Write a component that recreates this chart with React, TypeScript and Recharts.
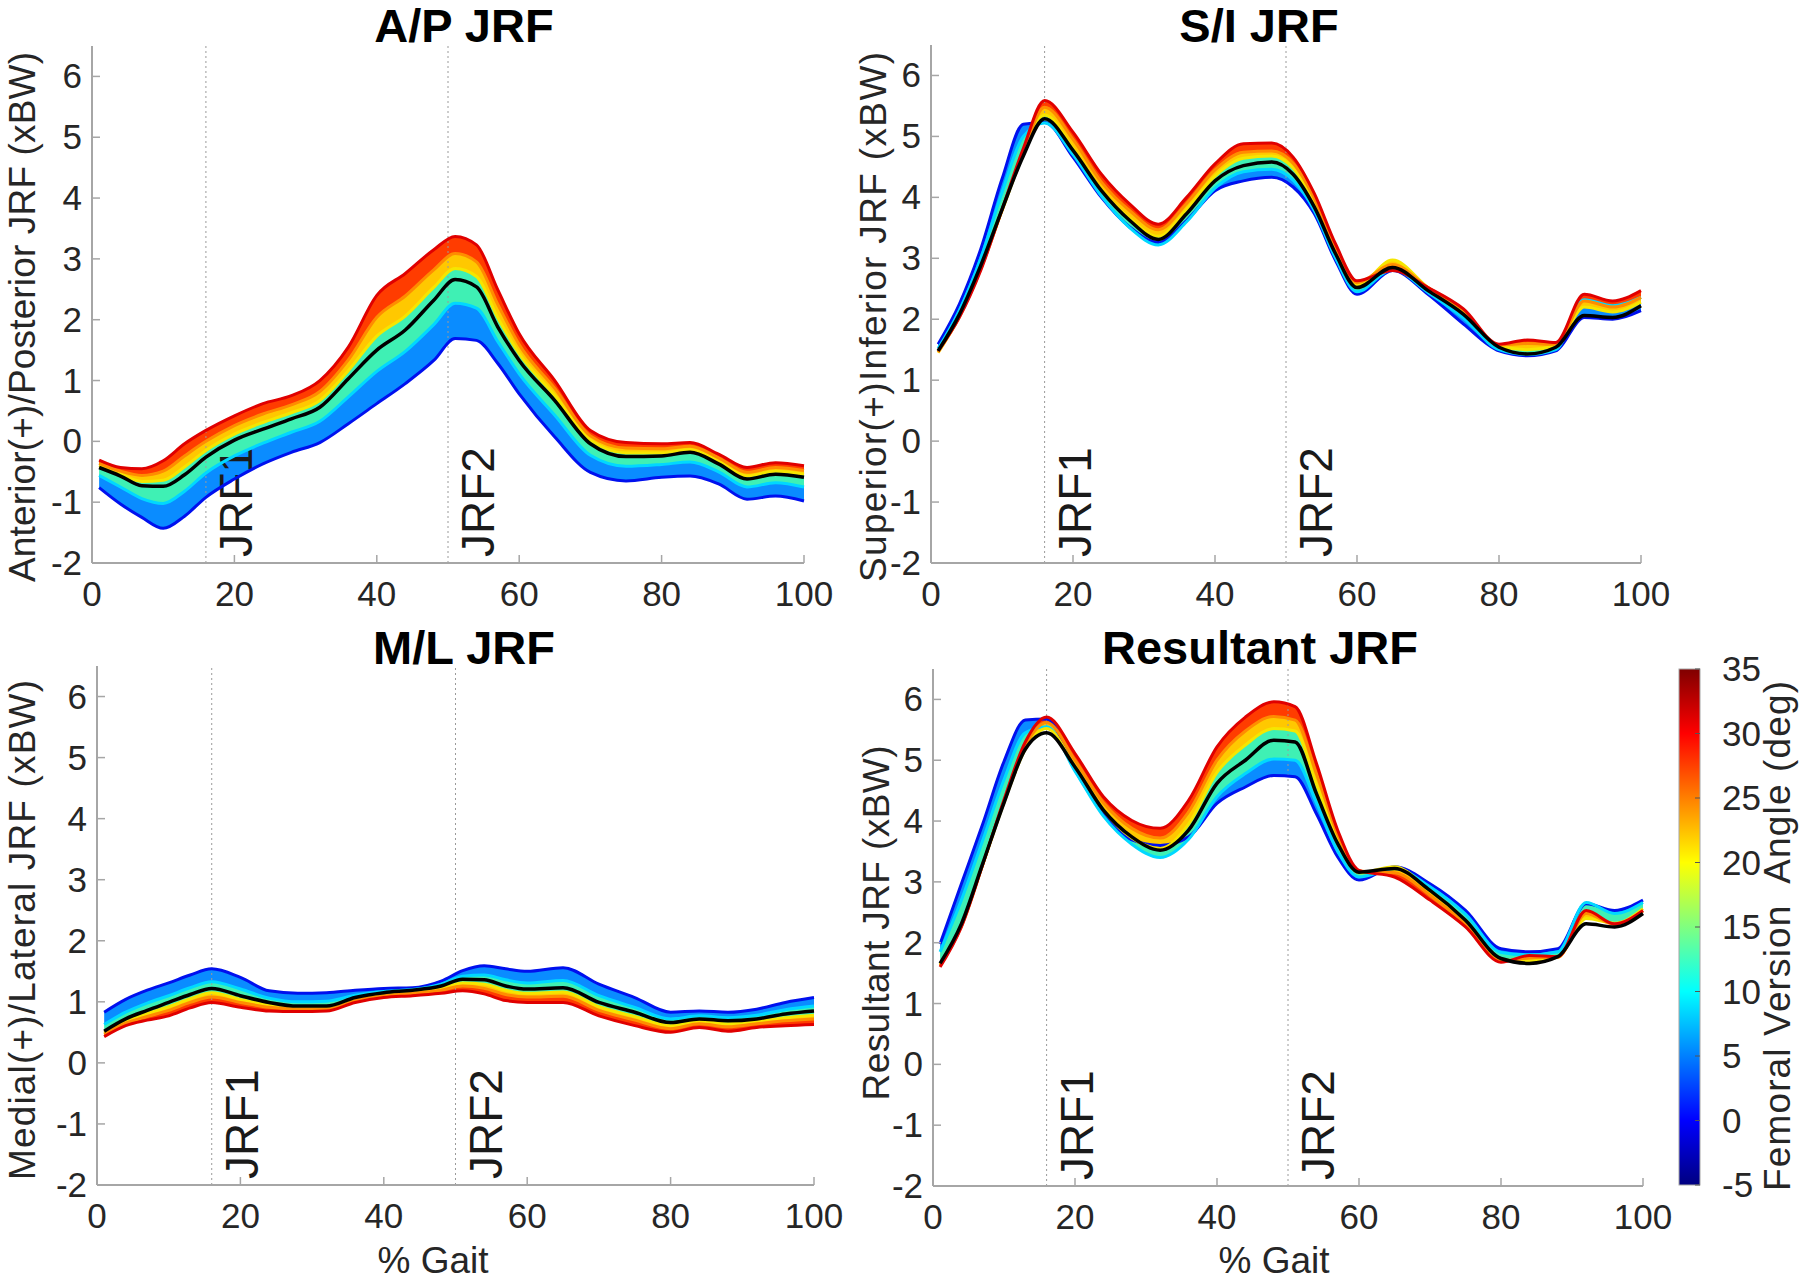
import React from "react";
import { ComposedChart, Area, Line, XAxis, YAxis, ReferenceLine } from "recharts";

// % gait samples shared by every panel
const gait = [1, 4, 7, 10, 13, 16, 20, 24, 28, 32, 36, 40, 44, 48, 51, 54, 57, 60, 65, 70, 75, 80, 84, 88, 92, 96, 100];

const yTicks = [-2, -1, 0, 1, 2, 3, 4, 5, 6];
const xTicks = [0, 20, 40, 60, 80, 100];
const barTicks = [35, 30, 25, 20, 15, 10, 5, 0, -5];
const jrfMarks = [16, 50];

// A/P JRF (xBW), one list per femoral version angle, black = baseline model
const apRed = [-0.31, -0.43, -0.45, -0.32, -0.04, 0.18, 0.42, 0.62, 0.75, 1.0, 1.55, 2.4, 2.76, 3.15, 3.37, 3.23, 2.49, 1.77, 1.0, 0.18, -0.02, -0.04, -0.02, -0.21, -0.43, -0.35, -0.4];
const apOrange = [-0.36, -0.49, -0.56, -0.49, -0.24, 0.0, 0.26, 0.45, 0.6, 0.82, 1.34, 2.04, 2.39, 2.82, 3.09, 2.95, 2.25, 1.59, 0.87, 0.09, -0.11, -0.12, -0.08, -0.27, -0.51, -0.43, -0.48];
const apYellow = [-0.4, -0.54, -0.66, -0.64, -0.42, -0.15, 0.12, 0.31, 0.47, 0.67, 1.16, 1.73, 2.06, 2.53, 2.84, 2.71, 2.03, 1.44, 0.75, 0.02, -0.19, -0.19, -0.14, -0.33, -0.57, -0.49, -0.54];
const apBlack = [-0.43, -0.57, -0.73, -0.74, -0.55, -0.26, 0.02, 0.2, 0.37, 0.56, 1.03, 1.5, 1.83, 2.32, 2.66, 2.54, 1.88, 1.33, 0.67, -0.04, -0.25, -0.24, -0.18, -0.37, -0.62, -0.54, -0.59];
const apCyan = [-0.56, -0.75, -0.94, -1.02, -0.82, -0.52, -0.24, -0.03, 0.15, 0.33, 0.73, 1.15, 1.48, 1.92, 2.27, 2.19, 1.64, 1.11, 0.43, -0.23, -0.41, -0.38, -0.34, -0.5, -0.75, -0.68, -0.75];
const apBlue = [-0.76, -1.03, -1.25, -1.43, -1.23, -0.92, -0.62, -0.37, -0.18, -0.02, 0.29, 0.62, 0.95, 1.33, 1.69, 1.66, 1.28, 0.78, 0.07, -0.51, -0.65, -0.59, -0.57, -0.7, -0.95, -0.9, -0.98];

// S/I JRF
const siRed = [1.48, 2.03, 2.8, 3.8, 4.8, 5.59, 5.07, 4.38, 3.89, 3.56, 4.0, 4.55, 4.88, 4.89, 4.66, 4.06, 3.23, 2.63, 2.8, 2.52, 2.17, 1.59, 1.66, 1.62, 2.41, 2.3, 2.47];
const siOrange = [1.46, 2.04, 2.82, 3.79, 4.74, 5.48, 4.95, 4.25, 3.78, 3.47, 3.9, 4.45, 4.74, 4.76, 4.56, 3.98, 3.16, 2.6, 2.9, 2.52, 2.15, 1.58, 1.6, 1.59, 2.3, 2.2, 2.36];
const siYellow = [1.45, 2.05, 2.85, 3.78, 4.7, 5.35, 4.8, 4.12, 3.65, 3.36, 3.8, 4.35, 4.64, 4.68, 4.48, 3.9, 3.1, 2.55, 2.97, 2.52, 2.12, 1.56, 1.5, 1.56, 2.2, 2.12, 2.28];
const siBlack = [1.48, 2.08, 2.88, 3.8, 4.68, 5.29, 4.77, 4.11, 3.62, 3.31, 3.73, 4.27, 4.52, 4.58, 4.38, 3.84, 3.07, 2.52, 2.85, 2.47, 2.08, 1.54, 1.43, 1.54, 2.06, 2.03, 2.22];
const siCyan = [1.52, 2.15, 3.0, 4.08, 5.0, 5.22, 4.7, 4.02, 3.5, 3.22, 3.6, 4.15, 4.42, 4.46, 4.28, 3.78, 3.0, 2.45, 2.82, 2.44, 2.02, 1.5, 1.42, 1.5, 2.32, 2.22, 2.36];
const siBlue = [1.59, 2.25, 3.15, 4.3, 5.2, 5.23, 4.66, 4.0, 3.51, 3.26, 3.62, 4.11, 4.27, 4.33, 4.17, 3.73, 2.96, 2.41, 2.8, 2.41, 1.92, 1.48, 1.4, 1.48, 2.03, 2.0, 2.14];

// M/L JRF
const mlRed = [0.43, 0.61, 0.7, 0.77, 0.9, 0.99, 0.91, 0.85, 0.84, 0.85, 0.99, 1.07, 1.1, 1.14, 1.18, 1.13, 1.02, 0.99, 0.99, 0.77, 0.61, 0.5, 0.58, 0.52, 0.58, 0.61, 0.63];
const mlOrange = [0.47, 0.65, 0.76, 0.86, 0.99, 1.08, 0.99, 0.91, 0.88, 0.88, 1.02, 1.1, 1.14, 1.19, 1.26, 1.22, 1.12, 1.08, 1.09, 0.86, 0.7, 0.56, 0.64, 0.59, 0.64, 0.69, 0.72];
const mlYellow = [0.49, 0.69, 0.81, 0.92, 1.05, 1.15, 1.04, 0.95, 0.9, 0.91, 1.05, 1.13, 1.16, 1.22, 1.31, 1.29, 1.19, 1.14, 1.16, 0.92, 0.76, 0.61, 0.68, 0.64, 0.68, 0.74, 0.78];
const mlBlack = [0.52, 0.72, 0.86, 0.99, 1.12, 1.22, 1.1, 0.99, 0.93, 0.93, 1.07, 1.15, 1.19, 1.26, 1.37, 1.36, 1.26, 1.21, 1.23, 0.99, 0.83, 0.66, 0.72, 0.69, 0.72, 0.8, 0.85];
const mlCyan = [0.63, 0.83, 0.98, 1.1, 1.23, 1.33, 1.21, 1.06, 1.0, 1.01, 1.11, 1.17, 1.2, 1.29, 1.42, 1.44, 1.36, 1.31, 1.35, 1.1, 0.91, 0.72, 0.77, 0.74, 0.78, 0.87, 0.93];
const mlBlue = [0.83, 1.04, 1.19, 1.31, 1.44, 1.54, 1.4, 1.18, 1.14, 1.15, 1.19, 1.22, 1.23, 1.34, 1.51, 1.59, 1.54, 1.5, 1.56, 1.29, 1.07, 0.83, 0.85, 0.83, 0.88, 0.99, 1.07];

// Resultant JRF
const reRed = [1.6, 2.26, 3.28, 4.35, 5.3, 5.71, 5.11, 4.4, 4.01, 3.88, 4.34, 5.22, 5.71, 5.96, 5.88, 4.95, 3.85, 3.19, 3.08, 2.7, 2.26, 1.68, 1.79, 1.77, 2.53, 2.31, 2.53];
const reOrange = [1.62, 2.27, 3.29, 4.32, 5.24, 5.62, 5.0, 4.3, 3.88, 3.72, 4.15, 5.0, 5.48, 5.72, 5.66, 4.78, 3.78, 3.18, 3.15, 2.78, 2.3, 1.7, 1.75, 1.76, 2.48, 2.3, 2.52];
const reYellow = [1.64, 2.28, 3.28, 4.3, 5.18, 5.52, 4.9, 4.18, 3.72, 3.55, 3.95, 4.8, 5.25, 5.52, 5.48, 4.6, 3.7, 3.15, 3.25, 2.84, 2.36, 1.72, 1.7, 1.76, 2.4, 2.32, 2.56];
const reBlack = [1.66, 2.31, 3.3, 4.3, 5.18, 5.45, 4.89, 4.18, 3.74, 3.52, 3.85, 4.62, 5.0, 5.33, 5.3, 4.45, 3.63, 3.16, 3.22, 2.86, 2.37, 1.74, 1.66, 1.77, 2.31, 2.26, 2.48];
const reCyan = [1.85, 2.7, 3.68, 4.68, 5.45, 5.55, 4.82, 4.08, 3.62, 3.4, 3.7, 4.4, 4.78, 5.02, 5.0, 4.3, 3.5, 3.08, 3.22, 2.92, 2.47, 1.84, 1.8, 1.85, 2.66, 2.48, 2.66];
const reBlue = [1.98, 2.97, 3.95, 4.98, 5.66, 5.68, 4.84, 4.12, 3.69, 3.6, 3.74, 4.29, 4.56, 4.75, 4.73, 4.12, 3.41, 3.03, 3.25, 2.97, 2.53, 1.9, 1.85, 1.9, 2.64, 2.53, 2.7];

const FONT = "Arial, 'Liberation Sans', Helvetica, sans-serif";
const TXT = "#262626";
const AXIS = "#a6a6a6";

type Row = { x: number; b: number; c: number; y: number; o: number; r: number; k: number };

function makeRows(b: number[], c: number[], y: number[], o: number[], r: number[], k: number[]): Row[] {
  return gait.map((x, i) => ({ x, b: b[i], c: c[i], y: y[i], o: o[i], r: r[i], k: k[i] }));
}

const YTick = (props: any) => {
  const { x, y, payload } = props;
  return (
    <g>
      <text x={x} y={y + 12} textAnchor="end" fontSize={35} fill={TXT}>{payload.value}</text>
      <line x1={x + 10} x2={x + 18} y1={y} y2={y} stroke={AXIS} strokeWidth={1.5} />
    </g>
  );
};

const XTick = (props: any) => {
  const { x, y, payload } = props;
  return (
    <g>
      <text x={x} y={y + 43} textAnchor="middle" fontSize={35} fill={TXT}>{payload.value}</text>
      <line x1={x} x2={x} y1={y} y2={y - 8} stroke={AXIS} strokeWidth={1.5} />
    </g>
  );
};

const JrfLabel = (props: any) => {
  const { viewBox, text } = props;
  if (!viewBox) return null;
  const x = viewBox.x + 46;
  const y = viewBox.y + viewBox.height - 6;
  return (
    <text transform={`translate(${x},${y}) rotate(-90)`} fontSize={46} fill="#1a1a1a">{text}</text>
  );
};

const bands = [
  { lo: "b", hi: "c", fill: "#0a8cff" },
  { lo: "c", hi: "y", fill: "#3ff0b4" },
  { lo: "y", hi: "o", fill: "#ffc800" },
  { lo: "o", hi: "r", fill: "#ff3c00" },
];
const lines = [
  { key: "b", color: "#0010ee" },
  { key: "c", color: "#00d8ff" },
  { key: "y", color: "#f5e600" },
  { key: "o", color: "#ff8c00" },
  { key: "r", color: "#e00000" },
];

function Panel({ data, x0, x100, yTop, yBot }: { data: Row[]; x0: number; x100: number; yTop: number; yBot: number }) {
  const axisW = 90;
  const right = 40;
  const xH = 60;
  return (
    <div style={{ position: "absolute", left: x0 - axisW, top: yTop }}>
      <ComposedChart
        width={axisW + (x100 - x0) + right}
        height={yBot - yTop + xH}
        data={data}
        margin={{ top: 0, right, bottom: 0, left: 0 }}
      >
        <XAxis
          dataKey="x"
          type="number"
          domain={[0, 100]}
          ticks={xTicks}
          height={xH}
          tickSize={0}
          tickMargin={0}
          tick={<XTick />}
          axisLine={{ stroke: AXIS, strokeWidth: 2 }}
          tickLine={false}
          interval={0}
        />
        <YAxis
          type="number"
          domain={[-2, 6.5]}
          ticks={yTicks}
          width={axisW}
          tickSize={0}
          tickMargin={10}
          tick={<YTick />}
          axisLine={{ stroke: AXIS, strokeWidth: 2 }}
          tickLine={false}
          interval={0}
          allowDataOverflow
        />
        {jrfMarks.map((m, i) => (
          <ReferenceLine
            key={m}
            x={m}
            stroke="#9a9a9a"
            strokeWidth={1}
            strokeDasharray="2 3"
            label={<JrfLabel text={`JRF${i + 1}`} />}
          />
        ))}
        {bands.map((bd) => (
          <Area
            key={bd.lo + bd.hi}
            type="monotone"
            dataKey={(d: Row) => [(d as any)[bd.lo], (d as any)[bd.hi]]}
            fill={bd.fill}
            fillOpacity={1}
            stroke="none"
            isAnimationActive={false}
            activeDot={false}
          />
        ))}
        {lines.map((ln) => (
          <Line
            key={ln.key}
            type="monotone"
            dataKey={ln.key}
            stroke={ln.color}
            strokeWidth={3}
            dot={false}
            activeDot={false}
            isAnimationActive={false}
          />
        ))}
        <Line type="monotone" dataKey="k" stroke="#000000" strokeWidth={3.5} dot={false} activeDot={false} isAnimationActive={false} />
      </ComposedChart>
    </div>
  );
}

function VText({ x, y, size, len, children }: { x: number; y: number; size: number; len: number; children: React.ReactNode }) {
  return (
    <text
      transform={`translate(${x},${y}) rotate(-90)`}
      textAnchor="middle"
      fontSize={size}
      fill={TXT}
      textLength={len}
      lengthAdjust="spacing"
      style={{ whiteSpace: "pre" }}
    >
      {children}
    </text>
  );
}

function Overlay() {
  const barTop = 669;
  const barBot = 1185;
  const step = (barBot - barTop) / (barTicks.length - 1);
  return (
    <svg width={1800} height={1281} style={{ position: "absolute", left: 0, top: 0, pointerEvents: "none" }}>
      <defs>
        <linearGradient id="jet" x1="0" y1="1" x2="0" y2="0">
          <stop offset="0" stopColor="#000080" />
          <stop offset="0.125" stopColor="#0000ff" />
          <stop offset="0.375" stopColor="#00ffff" />
          <stop offset="0.625" stopColor="#ffff00" />
          <stop offset="0.875" stopColor="#ff0000" />
          <stop offset="1" stopColor="#800000" />
        </linearGradient>
      </defs>
      <g fontWeight="bold" fontSize={47} fill="#000" textAnchor="middle">
        <text x={464} y={42}>A/P JRF</text>
        <text x={1259} y={42}>S/I JRF</text>
        <text x={464} y={664}>M/L JRF</text>
        <text x={1260} y={664}>Resultant JRF</text>
      </g>
      <VText x={35} y={317} size={37} len={530}>Anterior(+)/Posterior JRF (xBW)</VText>
      <VText x={886} y={317} size={37} len={530}>Superior(+)Inferior JRF (xBW)</VText>
      <VText x={35} y={930} size={37} len={500}>Medial(+)/Lateral JRF (xBW)</VText>
      <VText x={889} y={923} size={37} len={355}>Resultant JRF (xBW)</VText>
      <text x={433} y={1273} textAnchor="middle" fontSize={37} fill={TXT}>% Gait</text>
      <text x={1274} y={1273} textAnchor="middle" fontSize={37} fill={TXT}>% Gait</text>
      <rect x={1679} y={barTop} width={21} height={barBot - barTop} fill="url(#jet)" stroke={AXIS} strokeWidth={1} />
      {barTicks.map((t, i) => (
        <g key={t}>
          <line x1={1695} x2={1700} y1={barTop + i * step} y2={barTop + i * step} stroke="#555" strokeWidth={1} />
          <text x={1722} y={barTop + i * step + 12} fontSize={35} fill={TXT}>{t}</text>
        </g>
      ))}
      <VText x={1790} y={936} size={37} len={510}>Femoral Version  Angle (deg)</VText>
    </svg>
  );
}

export default function App() {
  return (
    <div style={{ position: "absolute", left: 0, top: 0, width: 1800, height: 1281, background: "#fff", fontFamily: FONT, overflow: "hidden" }}>
      <Panel data={makeRows(apBlue, apCyan, apYellow, apOrange, apRed, apBlack)} x0={92} x100={804} yTop={46} yBot={563} />
      <Panel data={makeRows(siBlue, siCyan, siYellow, siOrange, siRed, siBlack)} x0={931} x100={1641} yTop={45} yBot={563} />
      <Panel data={makeRows(mlBlue, mlCyan, mlYellow, mlOrange, mlRed, mlBlack)} x0={97} x100={814} yTop={666} yBot={1185} />
      <Panel data={makeRows(reBlue, reCyan, reYellow, reOrange, reRed, reBlack)} x0={933} x100={1643} yTop={669} yBot={1186} />
      <Overlay />
    </div>
  );
}
